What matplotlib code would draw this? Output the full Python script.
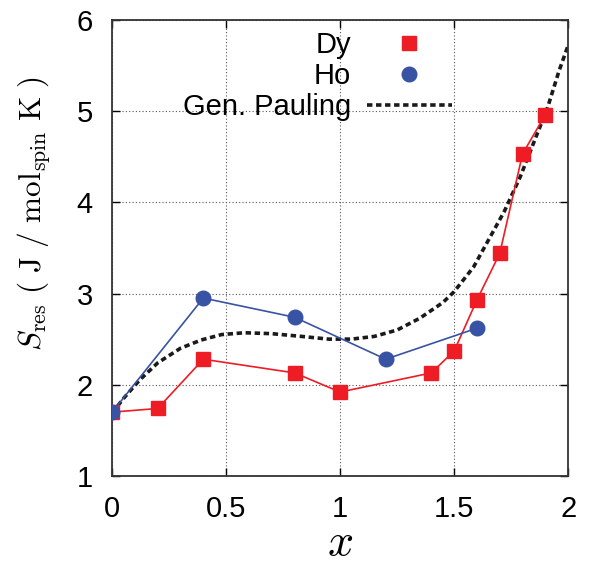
import matplotlib.pyplot as plt
from matplotlib.lines import Line2D

plt.rcParams['font.family'] = ['Liberation Sans', 'DejaVu Sans']
plt.rcParams['mathtext.fontset'] = 'cm'

# data
dy_x = [0.0, 0.2, 0.4, 0.8, 1.0, 1.4, 1.5, 1.6, 1.7, 1.8, 1.9]
dy_s = [1.70, 1.74, 2.28, 2.13, 1.92, 2.13, 2.37, 2.93, 3.44, 4.53, 4.96]

ho_x = [0.0, 0.4, 0.8, 1.2, 1.6]
ho_s = [1.70, 2.95, 2.74, 2.28, 2.62]

# generalised Pauling curve
gp_x = [0.0, 0.05, 0.12, 0.2, 0.3, 0.39, 0.48, 0.58, 0.7, 0.83, 0.95, 1.05, 1.15,
        1.25, 1.35, 1.45, 1.5, 1.585, 1.658, 1.72, 1.79, 1.85, 1.91, 1.96, 2.0]
gp_s = [1.69, 1.85, 2.05, 2.24, 2.40, 2.49, 2.55, 2.57, 2.56, 2.53, 2.50, 2.50, 2.53,
        2.60, 2.73, 2.90, 3.02, 3.29, 3.62, 3.90, 4.28, 4.66, 5.04, 5.44, 5.72]

red = '#ee1c25'
blue = '#3953a4'

fig = plt.figure(figsize=(5.9, 5.64), dpi=100)
ax = fig.add_axes([0.19, 0.156, 0.773, 0.809])

ax.plot(gp_x, gp_s, color='#1a1a1a', lw=2.6, ls=(0, (1.5, 1.0)), zorder=2)
ax.plot(dy_x, dy_s, color=red, lw=1.2, marker='s', ms=10, mec=red, zorder=3)
ax.plot(ho_x, ho_s, color=blue, lw=1.2, marker='o', ms=10.5, mec=blue, zorder=4)

ax.set_xlim(0, 2)
ax.set_ylim(1, 6)
ax.set_xticks([0, 0.5, 1, 1.5, 2])
ax.set_xticklabels(['0', '0.5', '1', '1.5', '2'])
ax.set_yticks([1, 2, 3, 4, 5, 6])
ax.grid(True, ls=(0, (1, 2)), color='#555555', lw=0.8)
ax.tick_params(direction='in', length=6, width=1, top=True, right=True, labelsize=21)
ax.tick_params(axis='x', pad=14)
ax.tick_params(axis='y', pad=14)
for sp in ax.spines.values():
    sp.set_linewidth(1.3)
    sp.set_color('#333333')

ax.set_xlabel(r'$x$', fontsize=33, labelpad=-1.5)
ax.set_ylabel(r'$S_{\rm res}\ (\ {\rm J}\ /\ {\rm mol}_{\rm spin}\ {\rm K}\ )$',
              fontsize=22.5)
ax.yaxis.set_label_coords(-0.13, 0.575)

handles = [
    Line2D([], [], ls='none', marker='s', ms=10, color=red),
    Line2D([], [], ls='none', marker='o', ms=10.5, color=blue),
    Line2D([], [], color='#1a1a1a', lw=2.6, ls=(0, (1.5, 1.0))),
]
ax.legend(handles, ['Dy', 'Ho', 'Gen. Pauling'], loc='upper center',
          bbox_to_anchor=(0.45, 1.02), frameon=False, markerfirst=False,
          fontsize=21, handlelength=2.9, handletextpad=0.55, labelspacing=0.1,
          borderpad=0.2)

fig.savefig('out.png', dpi=100)
